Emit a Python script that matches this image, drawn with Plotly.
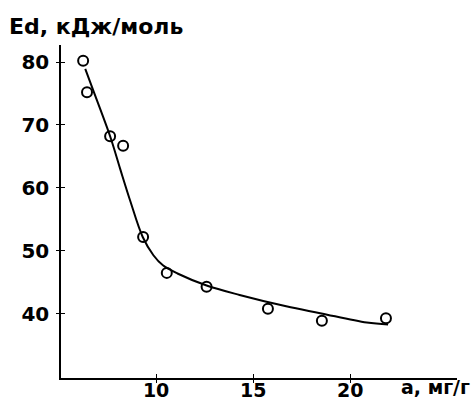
import plotly.graph_objects as go

# Measured points: specific adsorption a (mg/g) vs desorption energy Ed (kJ/mol)
a_points = [6.24, 6.44, 7.63, 8.30, 9.33, 10.55, 12.60, 15.76, 18.54, 21.84]
ed_points = [80.2, 75.2, 68.2, 66.7, 52.2, 46.5, 44.3, 40.8, 38.9, 39.3]

# Smoothed trend curve through the measurements
a_curve = [6.35, 6.77, 7.63, 8.14, 8.66, 9.31, 9.86, 10.35, 11.1, 12.6, 14.3, 16.7, 18.45, 20.85, 21.95]
ed_curve = [78.9, 75.4, 68.2, 63.1, 58.0, 52.2, 49.3, 47.7, 46.4, 44.5, 43.0, 41.2, 40.1, 38.6, 38.3]

x_ticks = [10, 15, 20]
y_ticks = [40, 50, 60, 70, 80]
x_range = [5.1, 25.5]
y_range = [29.8, 82.7]

font_family = "DejaVu Sans"
fig = go.Figure()

fig.add_trace(go.Scatter(
    x=a_curve, y=ed_curve, mode="lines",
    line=dict(color="black", width=2, shape="spline", smoothing=1.0),
    hoverinfo="skip", showlegend=False,
))
fig.add_trace(go.Scatter(
    x=a_points, y=ed_points, mode="markers",
    marker=dict(symbol="circle-open", size=10, color="black", line=dict(width=2, color="black")),
    showlegend=False,
))
# invisible trace so the outer tick axes are drawn
fig.add_trace(go.Scatter(x=[x_range[0]], y=[y_range[0]], xaxis="x2", yaxis="y2",
                         mode="markers", marker=dict(opacity=0), hoverinfo="skip", showlegend=False))

tick_font = dict(family=font_family, size=20, color="black", weight="bold")
xtick_font = dict(family=font_family, size=19, color="black", weight="bold")
title_font = dict(family=font_family, size=22, color="black", weight="bold")

common = dict(tickwidth=1.2, tickcolor="black", showgrid=False, zeroline=False, automargin=False)

fig.update_layout(
    width=472, height=403,
    margin=dict(l=61, r=15, t=45, b=25),
    paper_bgcolor="white", plot_bgcolor="white",
    xaxis=dict(range=x_range, tickvals=x_ticks, ticks="inside", ticklen=4, ticklabelstandoff=-6,
               showline=True, linecolor="black", linewidth=1.5, tickfont=xtick_font, **common),
    yaxis=dict(range=y_range, tickvals=y_ticks, ticks="inside", ticklen=4, ticklabelstandoff=6,
               showline=True, linecolor="black", linewidth=1.5, tickfont=tick_font, **common),
    xaxis2=dict(range=x_range, tickvals=x_ticks, ticks="outside", ticklen=4,
                overlaying="x", anchor="y2", side="bottom",
                showticklabels=False, showline=False, **common),
    yaxis2=dict(range=y_range, tickvals=y_ticks, ticks="outside", ticklen=4,
                overlaying="y", anchor="x2", side="left",
                showticklabels=False, showline=False, **common),
    annotations=[
        dict(text="Ed, кДж/моль", xref="paper", yref="paper",
             x=-54 / 396, y=1 + 4 / 333, xanchor="left", yanchor="bottom",
             showarrow=False, font=title_font),
        dict(text="a, мг/г", xref="paper", yref="paper",
             x=1 + 15 / 396, y=4 / 333, xanchor="right", yanchor="top",
             showarrow=False, font=xtick_font),
    ],
)

fig.write_html("out.html")
